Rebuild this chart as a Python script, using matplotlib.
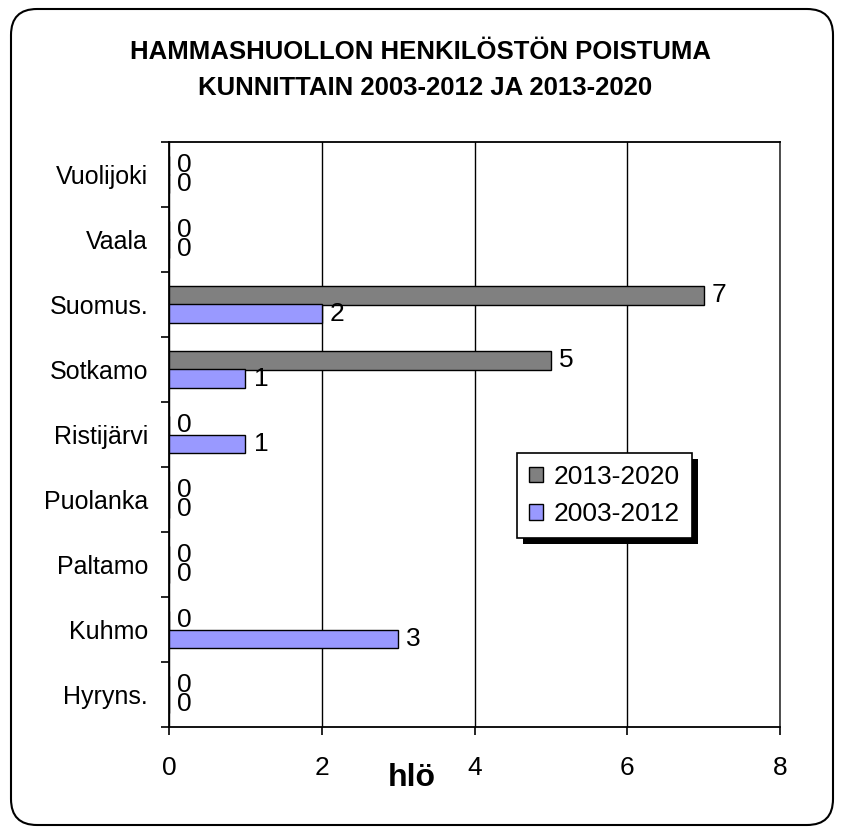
import matplotlib
matplotlib.use('Agg')
import matplotlib.pyplot as plt
import matplotlib.patches as mpatches
from matplotlib.transforms import IdentityTransform
import numpy as np

plt.rcParams['font.family'] = ['Liberation Sans', 'DejaVu Sans']

# data
kunnat = ['Hyryns.', 'Kuhmo', 'Paltamo', 'Puolanka', 'Ristijärvi',
          'Sotkamo', 'Suomus.', 'Vaala', 'Vuolijoki']
poistuma_2003_2012 = [0, 3, 0, 0, 1, 1, 2, 0, 0]
poistuma_2013_2020 = [0, 0, 0, 0, 0, 5, 7, 0, 0]
x_ticks = [0, 2, 4, 6, 8]

W, H = 844, 834
fig = plt.figure(figsize=(W / 100, H / 100), dpi=100)
ax = fig.add_axes([169 / W, 1 - 727 / H, (780 - 169) / W, (727 - 142) / H])

y = np.arange(len(kunnat))
h = 0.29
ax.barh(y + h / 2, poistuma_2013_2020, height=h, color='#808080',
        edgecolor='black', linewidth=1, label='2013-2020', zorder=3)
ax.barh(y - h / 2, poistuma_2003_2012, height=h, color='#9999FF',
        edgecolor='black', linewidth=1, label='2003-2012', zorder=3)

# value labels, zeros included
for i in range(len(kunnat)):
    ax.annotate(str(poistuma_2013_2020[i]), (poistuma_2013_2020[i], y[i] + h / 2),
                xytext=(6, 0), textcoords='offset points', va='center', ha='left',
                fontsize=19)
    ax.annotate(str(poistuma_2003_2012[i]), (poistuma_2003_2012[i], y[i] - h / 2),
                xytext=(6, 0), textcoords='offset points', va='center', ha='left',
                fontsize=19)

ax.set_xlim(0, 8)
ax.set_ylim(-0.5, len(kunnat) - 0.5)
ax.set_xticks(x_ticks)
ax.set_xticklabels([str(t) for t in x_ticks], fontsize=19)
ax.set_yticks(y)
ax.set_yticklabels(kunnat, fontsize=18)
ax.set_yticks(np.arange(-0.5, len(kunnat), 1), minor=True)
ax.tick_params(axis='y', which='major', length=0, pad=15)
ax.tick_params(axis='y', which='minor', length=6, width=1.2, direction='out')
ax.tick_params(axis='x', which='major', length=6, width=1.2, direction='out', pad=15)
ax.grid(axis='x', color='black', linewidth=1, zorder=0)
for s in ax.spines.values():
    s.set_linewidth(1.3)
    s.set_color('black')
ax.spines['right'].set_color('#404040')

fig.text(420 / W, 1 - 52 / H, 'HAMMASHUOLLON HENKILÖSTÖN POISTUMA',
         ha='center', va='center', fontsize=18.5, fontweight='bold')
fig.text(425 / W, 1 - 88 / H, 'KUNNITTAIN 2003-2012 JA 2013-2020',
         ha='center', va='center', fontsize=18.5, fontweight='bold')
fig.text(412 / W, 1 - 778 / H, 'hlö', ha='center', va='center',
         fontsize=23, fontweight='bold')

leg = ax.legend(loc='upper left', bbox_to_anchor=(517 / W, 1 - 453 / H),
                bbox_transform=fig.transFigure, borderaxespad=0,
                fancybox=False, edgecolor='black', framealpha=1,
                fontsize=19, handlelength=0.55, handleheight=0.55,
                handletextpad=0.4, borderpad=0.45, labelspacing=0.5)
leg.get_frame().set_linewidth(1.2)
leg.set_zorder(10)

# black drop shadow under the legend
fig.canvas.draw()
bb = leg.get_window_extent()
shadow = mpatches.Rectangle((bb.x0 + 6, bb.y0 - 6), bb.width, bb.height,
                            transform=IdentityTransform(), facecolor='black',
                            edgecolor='none', zorder=9, clip_on=False)
ax.add_artist(shadow)
shadow.set_transform(IdentityTransform())

# rounded outer border
border = mpatches.FancyBboxPatch((11, 9), W - 22, H - 18,
                                 boxstyle='round,pad=0,rounding_size=26',
                                 transform=IdentityTransform(), facecolor='none',
                                 edgecolor='black', linewidth=1.5)
border.set_figure(fig)
fig.patches.append(border)

fig.savefig('out.png', dpi=100)
